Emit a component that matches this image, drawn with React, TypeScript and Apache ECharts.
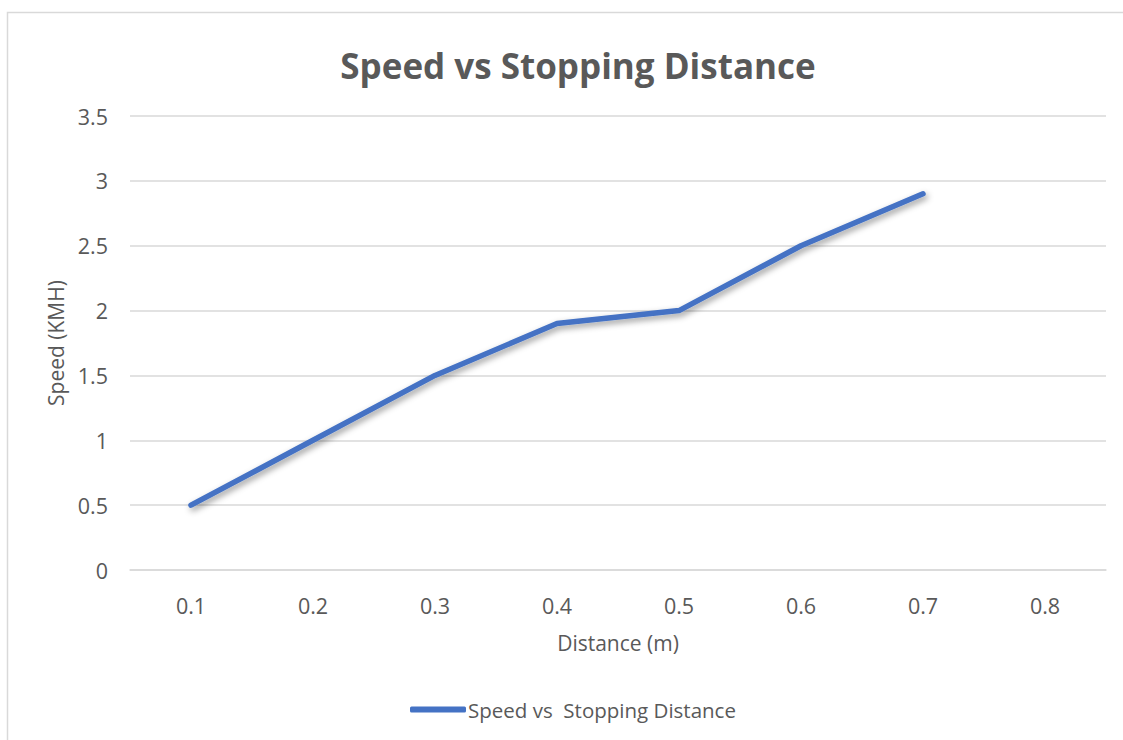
import React, { useEffect, useRef } from "react";
import * as echarts from "echarts";

const categories = ["0.1", "0.2", "0.3", "0.4", "0.5", "0.6", "0.7", "0.8"];
const speedValues: (number | null)[] = [0.5, 1.0, 1.5, 1.9, 2.0, 2.5, 2.9, null];
const seriesName = "Speed vs  Stopping Distance";
const titleText = "Speed vs Stopping Distance";
const xAxisName = "Distance (m)";
const yAxisName = "Speed (KMH)";

export default function App() {
  const ref = useRef<HTMLDivElement>(null);
  useEffect(() => {
    document.body.style.margin = "0";
    const chart = echarts.init(ref.current!, null, { renderer: "svg" });
    const font = "'Open Sans', 'Noto Sans', sans-serif";
    chart.setOption({
      animation: false,
      backgroundColor: "#ffffff",
      textStyle: { fontFamily: font },
      title: {
        text: titleText,
        left: 573,
        top: 43,
        textAlign: "center",
        textStyle: { fontSize: 35, fontWeight: "bold", color: "#595959", fontFamily: font },
      },
      graphic: [
        {
          type: "rect",
          shape: { x: 7.5, y: 12.5, width: 1200, height: 800 },
          style: { fill: "none", stroke: "#d9d9d9", lineWidth: 1.5 },
          silent: true,
          z: -1,
        },
      ],
      legend: {
        bottom: 15,
        left: 405,
        itemWidth: 56,
        itemHeight: 6,
        itemGap: 0,
        icon: "roundRect",
        textStyle: { fontSize: 20.5, color: "#595959", fontFamily: font, padding: [0, 0, 0, -3] },
        data: [{ name: seriesName, icon: "roundRect" }],
      },
      grid: { left: 130, right: 17, top: 116, bottom: 170 },
      xAxis: {
        type: "category",
        data: categories,
        boundaryGap: true,
        name: xAxisName,
        nameLocation: "middle",
        nameGap: 62,
        nameTextStyle: { fontSize: 21, color: "#595959" },
        axisLine: { show: true, lineStyle: { color: "#d9d9d9", width: 1.5 } },
        axisTick: { show: false },
        axisLabel: { fontSize: 21.5, color: "#595959", margin: 24 },
      },
      yAxis: {
        type: "value",
        min: 0,
        max: 3.5,
        interval: 0.5,
        name: yAxisName,
        nameLocation: "middle",
        nameGap: 59,
        nameTextStyle: { fontSize: 21, color: "#595959" },
        axisLine: { show: false },
        axisTick: { show: false },
        axisLabel: { fontSize: 21.5, color: "#595959", margin: 22 },
        splitLine: { lineStyle: { color: "#d9d9d9", width: 1.5 } },
      },
      series: [
        {
          name: seriesName,
          type: "line",
          data: speedValues,
          showSymbol: false,
          symbol: "none",
          color: "#4472C4",
          lineStyle: {
            width: 5.5,
            color: "#4472C4",
            cap: "round",
            join: "round",
            shadowColor: "rgba(0,0,0,0.4)",
            shadowBlur: 6,
            shadowOffsetX: 2,
            shadowOffsetY: 3,
          },
        },
      ],
    });
    return () => chart.dispose();
  }, []);
  return <div ref={ref} style={{ width: 1123, height: 740 }} />;
}
